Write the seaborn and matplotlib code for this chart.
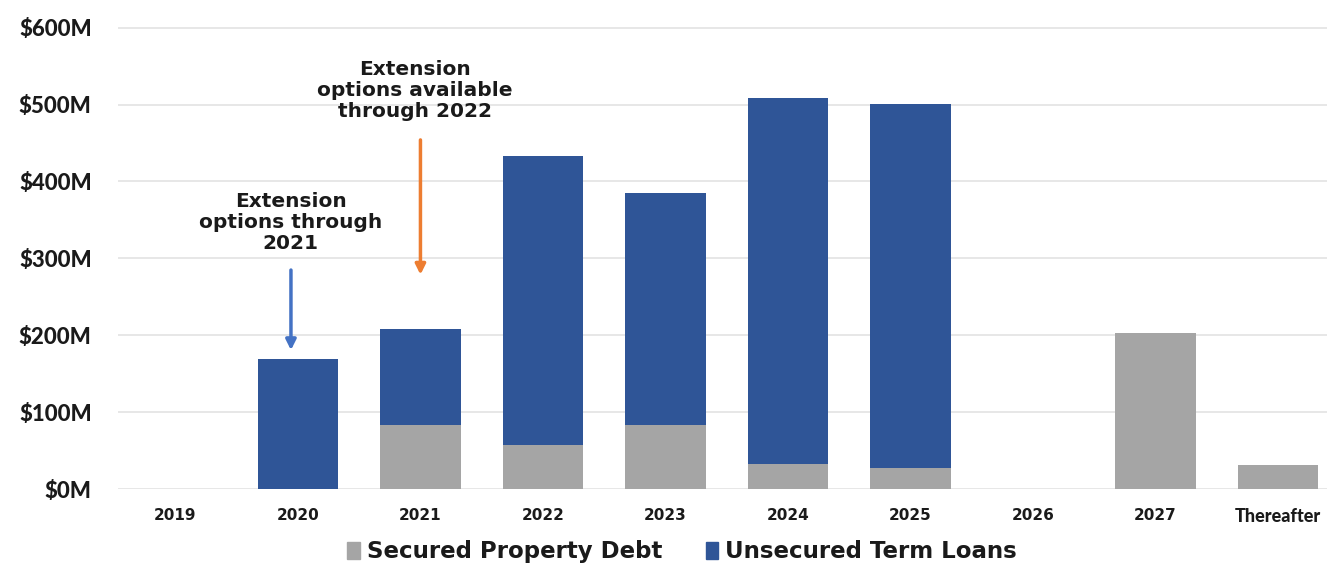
import pandas as pd
import seaborn as sns
from matplotlib import pyplot as plt
from matplotlib.patches import Patch

# ========================================================
years = ["2019", "2020", "2021", "2022", "2023", "2024", "2025", "2026", "2027", "Thereafter"]
secured = [0, 0, 84, 58, 84, 33, 28, 0, 203, 32]
unsecured = [0, 170, 124, 375, 301, 475, 473, 0, 0, 0]
yticks = [0, 100, 200, 300, 400, 500, 600]

navy = "#2F5597"
grey = "#A5A5A5"

dat = pd.DataFrame({"year": years, "secured": secured, "unsecured": unsecured})
dat["total"] = dat["secured"] + dat["unsecured"]

# ========================================================
sns.set_style("white")
plt.rcParams["font.family"] = ["DejaVu Sans"]

fig = plt.figure(figsize=(13.27, 5.66), dpi=100)
ax = fig.add_axes([0.0889, 0.1352, 0.9111, 0.8298])

# stacked look: total in navy, secured part drawn over it in grey
sns.barplot(data=dat, x="year", y="total", color=navy, width=0.658,
            saturation=1, linewidth=0, ax=ax, zorder=2)
sns.barplot(data=dat, x="year", y="secured", color=grey, width=0.658,
            saturation=1, linewidth=0, ax=ax, zorder=3)

ax.set_xlim(-0.469, 9.40)
ax.set_ylim(0, 610)
ax.set_yticks(yticks)
ax.set_yticklabels([f"${v}M" for v in yticks], fontfamily="Lato",
                   fontweight="black", fontsize=16, color="#1a1a1a")
ax.set_xticks(range(len(years)))
ax.set_xticklabels(years, fontweight="bold", fontsize=11, color="#1a1a1a")
ax.get_xticklabels()[-1].set_fontfamily("Lato")
ax.get_xticklabels()[-1].set_fontweight("black")
ax.get_xticklabels()[-1].set_fontsize(13)
ax.tick_params(axis="y", length=0, pad=19)
ax.tick_params(axis="x", length=0, pad=13)
ax.set_xlabel("")
ax.set_ylabel("")
ax.yaxis.grid(True, color="#E3E3E3", linewidth=1.2, zorder=0)
ax.set_axisbelow(True)
sns.despine(ax=ax, left=True, bottom=True)

# annotations
ax.annotate("", xy=(0.943, 181), xytext=(0.943, 285),
            arrowprops=dict(arrowstyle="-|>,head_width=0.3,head_length=0.6",
                            color="#4472C4", lw=2.5, shrinkA=0, shrinkB=0))
ax.annotate("", xy=(2.0, 279), xytext=(2.0, 454),
            arrowprops=dict(arrowstyle="-|>,head_width=0.3,head_length=0.6",
                            color="#ED7D31", lw=2.5, shrinkA=0, shrinkB=0))
ax.text(0.94, 347, "Extension\noptions through\n2021", ha="center", va="center",
        fontsize=14.5, fontweight="bold", color="#1a1a1a", linespacing=1.15)
ax.text(1.955, 518, "Extension\noptions available\nthrough 2022", ha="center", va="center",
        fontsize=14.5, fontweight="bold", color="#1a1a1a", linespacing=1.15)

handles = [Patch(color=grey, label="Secured Property Debt"),
           Patch(color=navy, label="Unsecured Term Loans")]
fig.legend(handles=handles, loc="center", bbox_to_anchor=(0.514, 0.025), ncol=2,
           frameon=False, prop={"weight": "bold", "size": 16.5},
           handlelength=0.55, handleheight=0.8, handletextpad=0.3, columnspacing=1.9,
           labelcolor="#1a1a1a")

plt.savefig("out.png", dpi=100)
